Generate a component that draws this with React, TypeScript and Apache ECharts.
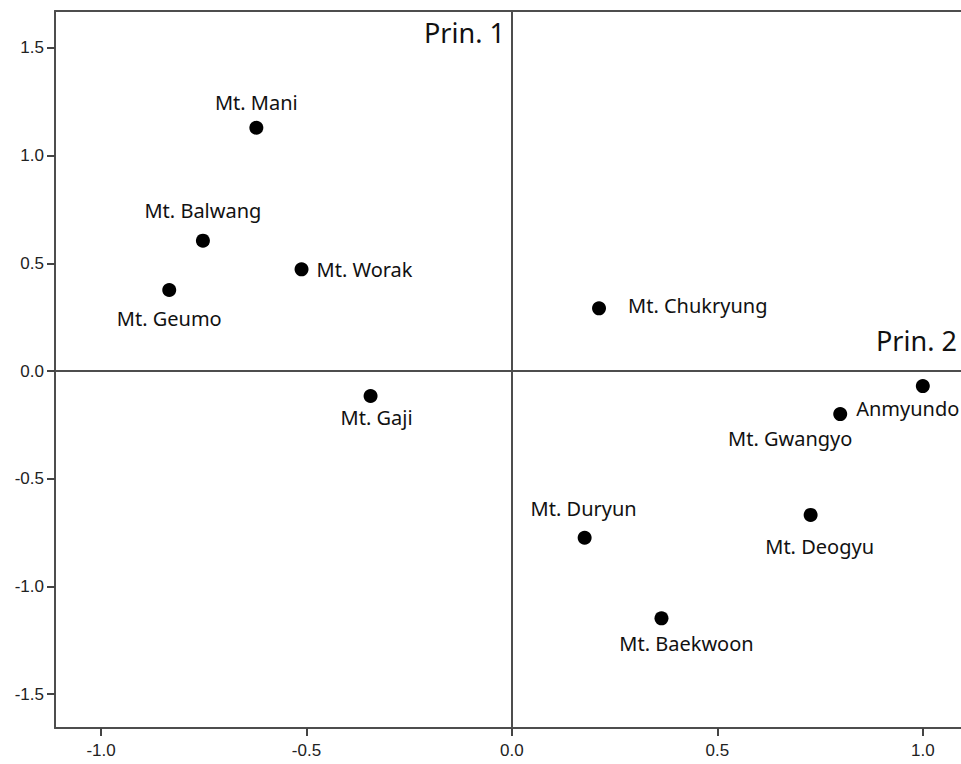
import React, { useEffect, useRef } from "react";
import * as echarts from "echarts";

const names = [
  "Mt. Mani", "Mt. Balwang", "Mt. Geumo", "Mt. Worak", "Mt. Gaji", "Mt. Chukryung",
  "Anmyundo", "Mt. Gwangyo", "Mt. Duryun", "Mt. Deogyu", "Mt. Baekwoon",
];
const prin1 = [-0.622, -0.752, -0.834, -0.512, -0.344, 0.212, 1.0, 0.799, 0.177, 0.727, 0.364];
const prin2 = [1.129, 0.605, 0.376, 0.472, -0.116, 0.291, -0.07, -0.2, -0.774, -0.668, -1.148];
const tickValues = [-1.5, -1.0, -0.5, 0.0, 0.5, 1.0, 1.5];
const xTickValues = [-1.0, -0.5, 0.0, 0.5, 1.0];

// label placement (layout only)
const labelPlacement: { pos: string; offset: [number, number]; distance?: number }[] = [
  { pos: "inside", offset: [0, -25] },
  { pos: "inside", offset: [0, -30] },
  { pos: "inside", offset: [0, 28] },
  { pos: "right", offset: [0, 0], distance: 8 },
  { pos: "inside", offset: [6, 22] },
  { pos: "right", offset: [0, -3], distance: 22 },
  { pos: "inside", offset: [-15, 22] },
  { pos: "inside", offset: [-50, 24] },
  { pos: "inside", offset: [-1, -29] },
  { pos: "inside", offset: [9, 32] },
  { pos: "inside", offset: [25, 25] },
];

const LABEL_FONT = "'Noto Sans', 'Open Sans', sans-serif";
const AXIS_FONT = "'Liberation Sans', Arial, sans-serif";
const X_MIN = -1.112;
const X_MAX = 1.11;

export default function App() {
  const ref = useRef<HTMLDivElement>(null);
  useEffect(() => {
    if (!ref.current) return;
    const chart = echarts.init(ref.current, undefined, { renderer: "svg" });
    const data = names.map((n, i) => ({
      name: n,
      value: [prin1[i], prin2[i]],
      label: {
        show: true,
        formatter: n,
        position: labelPlacement[i].pos,
        offset: labelPlacement[i].offset,
        distance: labelPlacement[i].distance ?? 5,
        color: "#111111",
        fontSize: 20,
        fontFamily: LABEL_FONT,
      },
    }));
    const lineStyle = { color: "#4d4d4d", width: 2 };
    chart.setOption({
      animation: false,
      backgroundColor: "#ffffff",
      grid: {
        left: 55,
        top: 11,
        bottom: 36,
        right: 0,
        outerBoundsMode: "none",
        containLabel: false,
        show: false,
      },
      xAxis: [
        {
          type: "value",
          min: X_MIN,
          max: X_MAX,
          splitLine: { show: false },
          axisLine: { show: true, onZero: false, lineStyle },
          axisTick: { show: true, inside: false, length: 8, customValues: xTickValues, lineStyle: { color: "#444444", width: 2 } },
          axisLabel: {
            show: true,
            customValues: xTickValues,
            formatter: (v: number) => v.toFixed(1),
            color: "#222222",
            fontSize: 17,
            fontFamily: AXIS_FONT,
            margin: 14,
          },
        },
        {
          type: "value",
          position: "top",
          min: X_MIN,
          max: X_MAX,
          splitLine: { show: false },
          axisLine: { show: true, onZero: false, lineStyle },
          axisTick: { show: false },
          axisLabel: { show: false },
        },
      ],
      yAxis: {
        type: "value",
        min: -1.657,
        max: 1.671,
        splitLine: { show: false },
        axisLine: { show: true, onZero: false, lineStyle },
        axisTick: { show: true, inside: false, length: 8, customValues: tickValues, lineStyle: { color: "#444444", width: 2 } },
        axisLabel: {
          show: true,
          customValues: tickValues,
          formatter: (v: number) => v.toFixed(1),
          color: "#222222",
          fontSize: 17,
          fontFamily: AXIS_FONT,
          margin: 11,
        },
      },
      series: [
        {
          type: "scatter",
          xAxisIndex: 0,
          symbol: "circle",
          symbolSize: 14,
          itemStyle: { color: "#000000", opacity: 1 },
          data,
          markLine: {
            silent: true,
            symbol: "none",
            label: { show: false },
            lineStyle: { color: "#4d4d4d", width: 2, type: "solid", opacity: 1 },
            data: [{ xAxis: 0 }, { yAxis: 0 }],
          },
          z: 3,
        },
      ],
      graphic: [
        {
          type: "text",
          left: 424,
          top: 19,
          style: { text: "Prin. 1", fontSize: 27, fontFamily: LABEL_FONT, fill: "#111111" },
        },
        {
          type: "text",
          left: 876,
          top: 327,
          style: { text: "Prin. 2", fontSize: 27, fontFamily: LABEL_FONT, fill: "#111111" },
        },
      ],
    });
    return () => chart.dispose();
  }, []);
  return (
    <div style={{ position: "absolute", left: 0, top: 0, width: 961, height: 764, overflow: "hidden", background: "#fff" }}>
      <div ref={ref} style={{ width: 968, height: 764 }} />
    </div>
  );
}
